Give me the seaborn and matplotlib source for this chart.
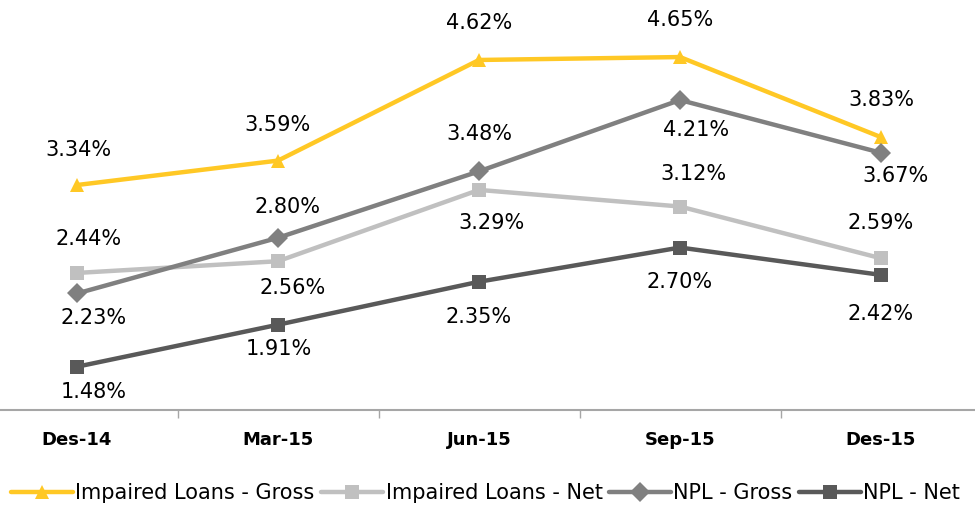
import matplotlib
matplotlib.use("Agg")
import matplotlib.pyplot as plt
import seaborn as sns

periods = ["Des-14", "Mar-15", "Jun-15", "Sep-15", "Des-15"]
impaired_gross = [3.34, 3.59, 4.62, 4.65, 3.83]
impaired_net = [2.44, 2.56, 3.29, 3.12, 2.59]
npl_gross = [2.23, 2.80, 3.48, 4.21, 3.67]
npl_net = [1.48, 1.91, 2.35, 2.70, 2.42]

# label offsets in pixels (dx, dy), dy > 0 means above the marker
gross_off = [(1, 35), (0, 36), (0, 37), (0, 37), (0, 37)]
net_off = [(12, 34), (15, -27), (13, -33), (13, 33), (0, 35)]
nplg_off = [(17, -25), (9, 31), (0, 37), (16, -30), (14, -23)]
npln_off = [(17, -25), (1, -24), (0, -35), (0, -34), (0, -39)]

series = [
    ("Impaired Loans - Gross", impaired_gross, "#FFC825", "^", 14.5, gross_off),
    ("Impaired Loans - Net", impaired_net, "#C0C0C0", "s", 13.5, net_off),
    ("NPL - Gross", npl_gross, "#808080", "D", 11, nplg_off),
    ("NPL - Net", npl_net, "#595959", "s", 13.5, npln_off),
]

sns.set_style("white")
plt.rcParams['font.family'] = ['DejaVu Sans']

fig = plt.figure(figsize=(9.75, 5.07), dpi=100)
ax = fig.add_axes([-23.5 / 975, 97 / 507, 1005 / 975, 410 / 507])

x = list(range(len(periods)))
for name, vals, color, marker, ms, offs in series:
    sns.lineplot(x=x, y=vals, ax=ax, color=color, marker=marker,
                 markersize=ms, markeredgewidth=0, linewidth=3.2,
                 label=name)
    for xi, v, (dx, dy) in zip(x, vals, offs):
        ax.annotate("{:.2f}%".format(v), (xi, v), xytext=(dx, dy),
                    textcoords="offset pixels", ha="center", va="center",
                    fontsize=15, color="black")

ax.set_xlim(-0.5, 4.5)
ax.set_ylim(1.037, 5.234)
ax.set_yticks([])
ax.set_xticks(x)
ax.set_xticklabels(periods, fontsize=13, fontweight="bold", color="black")
ax.set_xticks([0.5, 1.5, 2.5, 3.5], minor=True)
ax.tick_params(axis="x", which="major", length=0, pad=15)
ax.tick_params(axis="x", which="minor", length=6, width=1, color="#A6A6A6",
               direction="out", bottom=True)
for side in ["top", "right", "left"]:
    ax.spines[side].set_visible(False)
ax.spines["bottom"].set_color("#A6A6A6")
ax.spines["bottom"].set_linewidth(1.5)

ax.get_legend().remove()
handles, labels = ax.get_legend_handles_labels()
for h in handles:
    h.set_markersize(10)
leg = fig.legend(handles, labels, loc="lower center",
                 bbox_to_anchor=(0.498, -0.03), ncol=4, frameon=False,
                 fontsize=15, handlelength=3.0, handletextpad=0.1,
                 columnspacing=0.3)
for t in leg.get_texts():
    t.set_color("black")

fig.savefig("out.png", dpi=100)
